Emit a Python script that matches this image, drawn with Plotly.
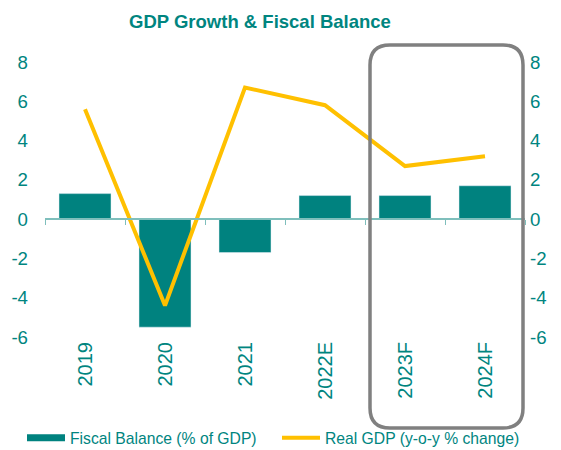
import plotly.graph_objects as go

# Chart data
years = ["2019", "2020", "2021", "2022E", "2023F", "2024F"]
fiscal_balance = [1.3, -5.5, -1.7, 1.2, 1.2, 1.7]
real_gdp = [5.6, -4.4, 6.7, 5.8, 2.7, 3.2]
axis_ticks = [-6, -4, -2, 0, 2, 4, 6, 8]
axis_labels = ["-6", "-4", "-2", "0", "2", "4", "6", "8"]

TEAL = "#00827F"
TEXT = "#00857F"
AXIS = "#7FBFBC"
YELLOW = "#FFC000"
FONT = "Liberation Sans, Arial, sans-serif"

W, H = 561, 450
L, R, T, B = 45, 36, 62, 113
PW, PH = W - L - R, H - T - B


def px(x):
    return (x - L) / PW


def py(y):
    return (H - B - y) / PH


fig = go.Figure()

fig.add_trace(go.Bar(
    x=years, y=fiscal_balance, marker_color=TEAL, width=0.65,
    showlegend=False, xaxis="x", yaxis="y",
))
# wide legend swatch for the bar series
fig.add_trace(go.Scatter(
    x=[None], y=[None], mode="lines", line=dict(color=TEAL, width=7),
    name="Fiscal Balance (% of GDP)", xaxis="x", yaxis="y",
))
fig.add_trace(go.Scatter(
    x=years, y=real_gdp, mode="lines", line=dict(color=YELLOW, width=4),
    name="Real GDP (y-o-y % change)", xaxis="x2", yaxis="y2",
))

# rounded frame around the forecast years
x0, x1, y0, y1, r = px(370), px(523), py(45), py(428), 20
rx, ry = r / PW, r / PH
path = (
    f"M {x0 + rx} {y0} L {x1 - rx} {y0} Q {x1} {y0} {x1} {y0 - ry} "
    f"L {x1} {y1 + ry} Q {x1} {y1} {x1 - rx} {y1} "
    f"L {x0 + rx} {y1} Q {x0} {y1} {x0} {y1 + ry} "
    f"L {x0} {y0 - ry} Q {x0} {y0} {x0 + rx} {y0} Z"
)

fig.update_layout(
    width=W, height=H,
    margin=dict(l=L, r=R, t=T, b=B, autoexpand=False),
    paper_bgcolor="white", plot_bgcolor="white",
    font=dict(family=FONT, color=TEXT, size=18.67),
    title=dict(
        text="<b>GDP Growth & Fiscal Balance</b>",
        x=260 / W, xanchor="center", xref="container",
        y=1 - 22 / H, yanchor="middle", yref="container",
        font=dict(size=18.5, color=TEXT, family=FONT),
    ),
    xaxis=dict(
        type="category", categoryorder="array", categoryarray=years,
        range=[-0.5, 5.5], showline=False, showgrid=False, zeroline=False,
        ticks="", tickangle=-90, tickfont=dict(size=20, color=TEXT),
        automargin=False,
    ),
    xaxis2=dict(
        type="category", categoryorder="array", categoryarray=years,
        range=[-0.5, 5.5], overlaying="x", anchor="free", position=6 / 14,
        showline=True, linecolor=AXIS, linewidth=1.5, showgrid=False,
        showticklabels=False, ticks="outside", ticklen=5, tickwidth=1.2,
        tickcolor=AXIS, tickson="boundaries", side="bottom", automargin=False,
    ),
    yaxis=dict(
        range=[-6, 8], tickvals=axis_ticks, ticktext=axis_labels,
        showgrid=False, zeroline=False, showline=False,
        tickfont=dict(size=18.67, color=TEXT), ticklabelstandoff=16,
        automargin=False,
    ),
    yaxis2=dict(
        range=[-6, 8], tickvals=axis_ticks, ticktext=axis_labels,
        overlaying="y", side="right", anchor="x", showgrid=False,
        zeroline=False, showline=False, tickfont=dict(size=18.67, color=TEXT),
        ticklabelstandoff=4, automargin=False,
    ),
    legend=dict(
        orientation="h", x=px(22), xanchor="left", y=py(438), yanchor="middle",
        font=dict(size=15.7, color=TEXT), entrywidth=202, entrywidthmode="pixels",
        itemwidth=38, bgcolor="rgba(0,0,0,0)", itemclick=False,
    ),
    shapes=[dict(
        type="path", path=path, xref="paper", yref="paper",
        line=dict(color="#808080", width=3.5), layer="above",
    )],
)

fig.write_html("out.html")
